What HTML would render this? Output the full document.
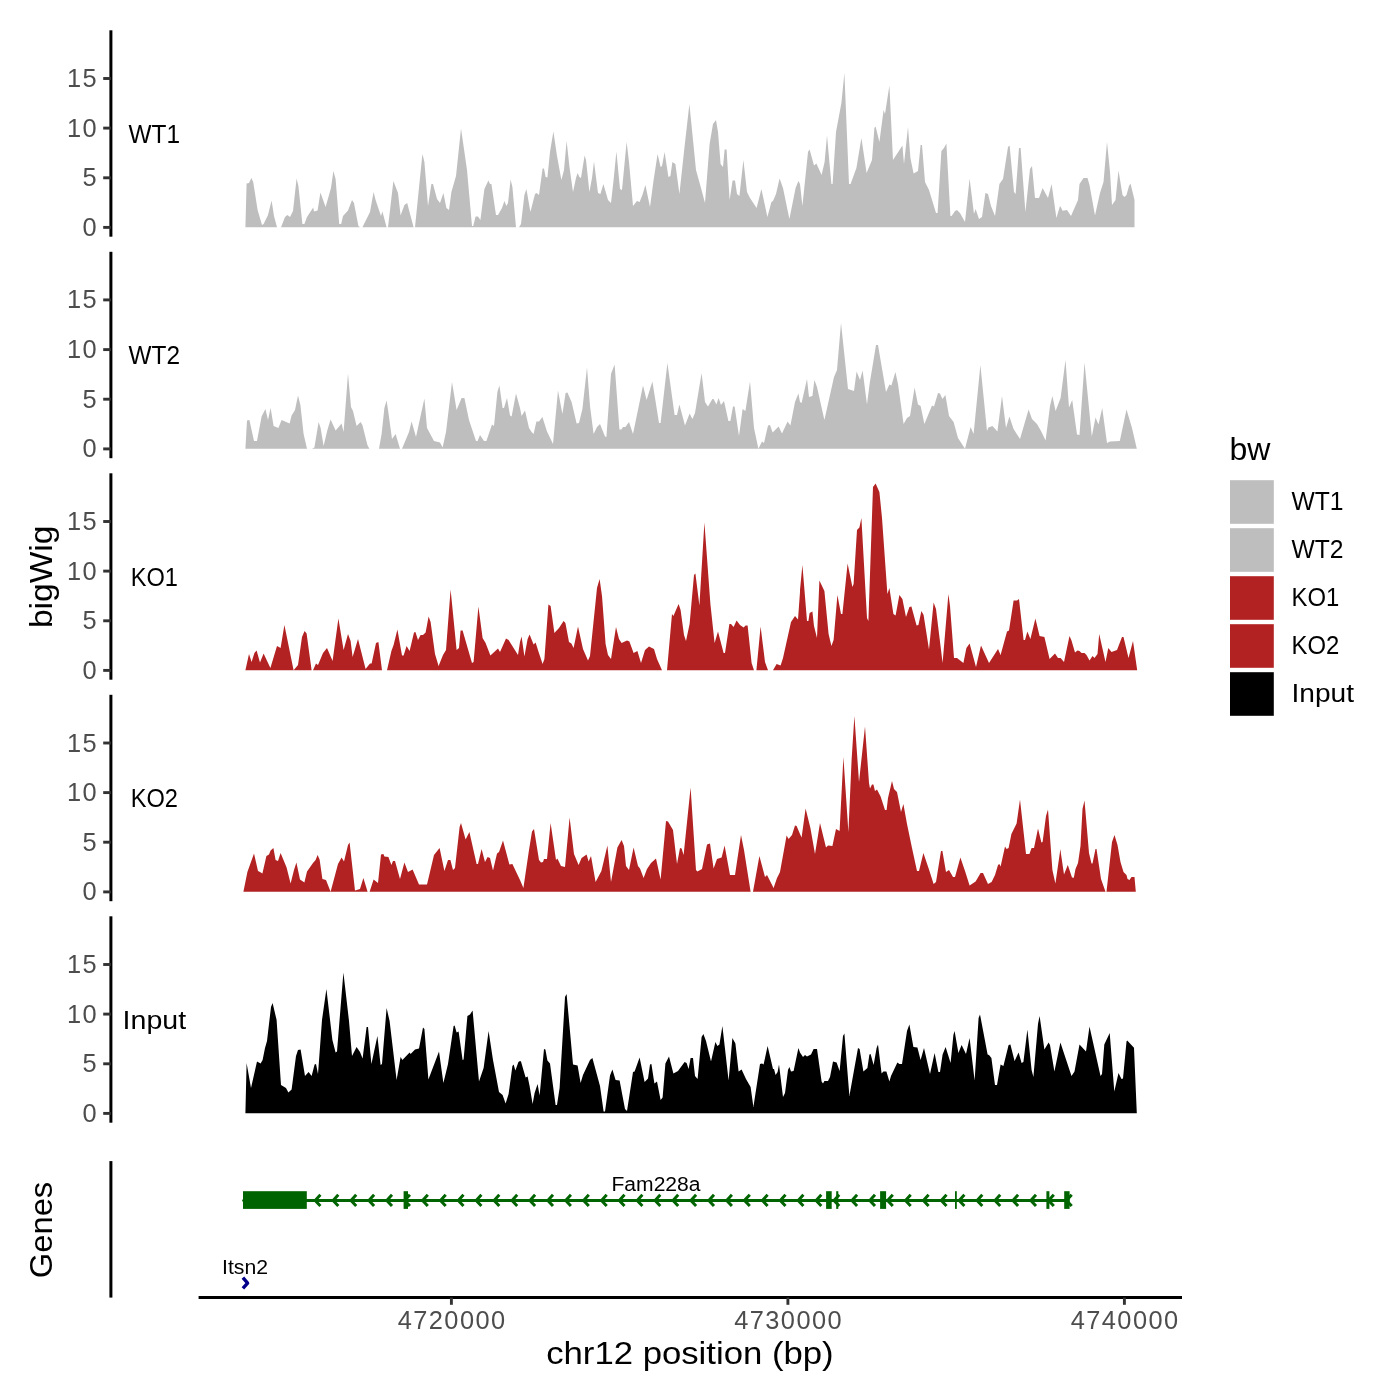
<!DOCTYPE html>
<html><head><meta charset="utf-8"><title>coverage</title>
<style>html,body{margin:0;padding:0;background:#fff}svg{display:block;will-change:transform}text{font-family:"Liberation Sans",sans-serif}</style></head>
<body>
<svg width="1400" height="1400" viewBox="0 0 1400 1400">
<rect width="1400" height="1400" fill="#fff"/>
<path d="M245.4,227.2L245.4,227.2L246.6,183.6L249.0,183.0L251.4,178.0L253.2,182.0L257.6,210.0L262.0,225.0L263.6,224.0L268.0,215.0L271.6,200.6L274.0,216.0L277.0,227.2L277.0,227.2ZM281.0,227.2L281.0,227.2L285.0,217.0L287.4,215.0L290.0,217.0L293.0,211.0L296.6,178.4L298.4,186.0L302.4,224.0L304.4,224.0L307.0,217.0L313.2,207.6L314.0,211.6L317.6,210.4L320.4,192.4L325.6,207.0L331.0,188.0L333.4,171.0L335.6,179.0L339.2,224.0L341.2,224.0L343.0,216.0L348.0,210.4L352.0,200.0L354.0,203.0L358.4,226.0L360.0,227.2L360.0,227.2ZM362.4,227.2L362.4,227.2L370.0,212.0L373.6,192.0L375.6,200.0L381.0,216.0L382.4,211.6L386.6,227.2L388.0,227.2L393.4,181.0L398.0,193.0L400.6,215.6L404.4,205.0L407.2,203.0L409.0,210.0L413.6,227.2L415.0,227.2L422.4,154.0L424.4,162.0L428.0,206.0L431.4,184.0L433.0,184.0L437.0,199.0L440.0,203.0L443.4,193.0L446.4,208.0L449.0,210.0L451.4,192.0L456.0,176.0L461.0,128.4L467.0,170.0L472.0,226.0L473.2,226.0L475.6,216.4L478.0,216.4L480.4,220.0L484.4,189.0L488.4,180.6L490.0,184.0L491.4,184.0L496.0,215.0L498.0,215.0L502.0,208.0L504.4,201.0L506.4,206.0L508.0,203.0L510.6,179.6L512.4,187.0L516.0,227.2L519.0,227.2L521.0,224.0L524.4,195.0L526.4,189.0L530.4,212.0L535.0,194.0L536.6,193.0L539.0,195.0L542.6,168.6L544.0,168.6L545.6,177.0L547.4,177.6L550.0,152.0L553.4,131.6L557.0,156.0L561.4,180.0L564.0,170.0L566.6,141.0L569.6,168.0L573.0,192.0L576.0,178.0L577.6,173.0L579.4,177.0L581.0,178.0L584.6,155.6L586.0,160.0L589.4,192.0L592.0,178.0L594.0,161.4L598.0,193.0L600.4,194.0L603.4,184.0L608.0,200.0L611.0,203.0L613.6,180.0L616.4,151.6L620.0,189.0L622.0,190.0L626.6,142.0L629.0,162.0L633.0,206.0L637.0,201.0L639.6,202.0L642.4,195.0L645.4,185.0L650.0,207.0L653.6,180.0L657.6,154.0L660.6,167.0L662.0,166.0L664.6,152.0L668.4,177.0L670.4,176.0L672.4,162.0L675.4,164.0L679.4,194.0L684.4,148.0L689.4,104.0L696.0,170.0L701.0,188.0L705.0,203.0L709.6,144.0L713.0,124.0L716.0,120.0L718.0,132.0L720.6,164.0L723.0,167.0L724.6,149.6L726.6,149.6L729.6,200.0L732.6,180.4L735.0,180.4L737.0,194.0L739.4,196.0L743.4,160.0L747.0,192.0L750.0,198.0L756.6,208.0L761.4,189.0L767.4,217.0L771.4,202.0L773.0,201.0L776.0,194.0L779.6,178.6L783.0,188.0L789.4,219.0L795.6,188.0L798.4,181.0L800.0,184.0L802.4,206.0L808.0,152.0L809.6,149.6L814.0,165.6L816.4,163.6L821.6,175.0L824.6,162.0L827.0,135.6L831.4,184.0L832.6,184.0L836.0,132.0L841.4,103.0L844.4,73.0L849.0,184.0L850.6,184.0L856.4,168.0L861.4,138.0L866.6,173.0L872.0,160.0L874.4,128.0L875.6,126.4L879.4,142.0L883.6,110.0L885.0,114.0L889.4,85.6L893.0,160.0L902.4,145.6L904.0,164.0L908.0,127.0L910.4,158.0L913.6,173.6L918.0,171.0L920.6,145.0L922.0,145.0L925.0,182.0L929.0,190.0L936.0,213.0L937.6,213.0L941.4,151.0L944.0,148.0L946.4,143.4L950.4,216.0L951.6,216.0L955.0,211.0L957.0,210.0L960.0,213.0L965.0,222.0L969.6,178.4L974.0,214.0L975.6,209.0L979.0,219.0L982.0,217.0L985.4,193.0L988.0,194.0L991.0,206.0L995.0,216.0L999.4,184.0L1003.0,179.0L1008.0,147.0L1009.6,145.4L1014.0,192.0L1015.6,194.0L1019.0,148.0L1020.6,148.0L1025.4,212.0L1030.0,169.0L1032.0,166.0L1035.0,198.0L1039.0,198.0L1042.6,188.0L1048.0,198.0L1051.6,184.0L1056.4,218.0L1060.0,206.0L1061.0,207.5L1062.5,210.8L1067.0,210.0L1071.0,216.0L1078.0,200.0L1079.5,184.0L1083.5,178.0L1087.5,178.0L1089.5,185.0L1095.0,215.5L1100.0,193.0L1103.5,182.0L1107.0,142.0L1110.0,172.0L1112.0,205.0L1115.5,200.0L1118.5,170.5L1122.5,195.0L1124.5,197.0L1126.5,195.0L1129.0,186.0L1130.5,183.5L1134.5,200.0L1134.5,227.2L1134.5,227.2Z" fill="#BEBEBE"/>
<line x1="110.9" y1="30.3" x2="110.9" y2="236.7" stroke="#000" stroke-width="3"/>
<line x1="103.2" y1="227.4" x2="110.9" y2="227.4" stroke="#333" stroke-width="2.9"/>
<text x="82.46" y="235.9" font-size="25.4" fill="#4D4D4D" letter-spacing="1.43">0</text>
<line x1="103.2" y1="177.8" x2="110.9" y2="177.8" stroke="#333" stroke-width="2.9"/>
<text x="82.46" y="186.2" font-size="25.4" fill="#4D4D4D" letter-spacing="1.43">5</text>
<line x1="103.2" y1="128.1" x2="110.9" y2="128.1" stroke="#333" stroke-width="2.9"/>
<text x="66.91" y="136.6" font-size="25.4" fill="#4D4D4D" letter-spacing="1.43">10</text>
<line x1="103.2" y1="78.5" x2="110.9" y2="78.5" stroke="#333" stroke-width="2.9"/>
<text x="66.91" y="87.0" font-size="25.4" fill="#4D4D4D" letter-spacing="1.43">15</text>
<text x="128.6" y="142.8" font-size="25.6" fill="#000" text-anchor="start" textLength="51.5" lengthAdjust="spacingAndGlyphs">WT1</text>
<path d="M245.4,448.7L245.4,448.7L247.0,420.4L249.4,420.0L254.0,441.0L257.0,441.0L261.6,416.4L265.4,409.0L268.0,420.0L270.6,408.0L273.6,426.0L278.4,428.0L281.6,420.0L289.6,423.6L291.6,415.6L295.0,410.0L298.0,395.6L300.4,405.0L303.6,434.0L307.0,448.7L307.0,448.7ZM312.0,448.7L312.0,448.7L314.4,447.6L318.6,422.0L320.6,428.0L323.6,446.0L327.4,430.0L330.6,419.6L335.6,430.6L341.6,423.6L343.6,432.0L348.0,373.4L351.0,407.0L353.0,411.0L356.6,426.0L360.6,422.0L362.4,425.0L367.4,445.0L369.4,448.7L369.4,448.7ZM379.0,448.7L379.0,448.7L381.6,434.0L384.4,408.0L386.6,400.4L388.6,414.0L392.0,439.0L395.6,434.0L400.0,448.7L402.0,448.7L409.0,432.0L411.6,421.4L416.0,437.0L424.4,398.4L427.0,428.0L434.0,441.0L440.0,442.6L442.6,447.6L446.0,432.0L452.0,382.0L456.6,410.0L461.6,398.0L464.4,398.0L469.0,420.0L473.0,432.0L476.0,441.0L477.6,441.0L480.0,435.0L484.0,441.0L486.4,441.0L492.0,424.4L494.0,426.0L497.4,392.0L499.4,385.4L502.6,408.0L504.0,408.0L507.0,398.0L510.0,415.6L511.6,416.4L516.0,393.6L520.0,408.0L521.6,416.0L525.0,410.4L529.0,428.0L531.6,432.0L533.6,434.0L536.4,421.4L539.0,421.4L542.4,417.0L547.0,431.6L553.0,444.0L558.0,390.6L562.4,414.0L565.6,393.0L567.4,392.4L571.6,402.0L576.6,423.6L579.0,423.0L582.4,409.0L587.0,367.4L590.0,406.0L593.6,434.0L597.0,427.0L600.0,424.0L605.0,436.4L606.4,437.0L611.0,374.0L614.6,364.4L619.4,429.6L621.4,429.6L623.0,427.0L625.4,427.0L629.0,422.0L633.0,434.0L643.0,385.6L646.6,400.0L652.4,381.6L659.0,423.0L660.6,423.0L667.4,363.0L674.6,415.0L677.0,415.0L679.4,404.4L685.0,425.6L689.6,413.4L692.4,419.0L695.0,413.0L701.6,373.0L705.0,402.0L708.0,406.4L712.4,399.0L713.6,399.0L716.4,404.4L718.6,398.0L721.0,405.0L724.0,401.0L728.4,421.0L730.4,421.0L733.0,406.4L734.6,406.4L739.0,436.0L742.6,409.0L745.4,411.0L750.0,381.6L754.0,428.0L758.4,448.7L762.0,441.4L764.0,443.0L768.0,425.6L770.0,425.0L772.6,432.4L778.6,426.4L782.0,433.6L787.6,421.6L790.4,425.6L795.0,402.0L798.4,393.6L800.0,402.0L801.6,403.0L807.0,379.0L809.0,397.0L812.4,396.0L814.4,380.0L817.0,387.0L824.4,420.0L834.0,377.0L837.0,370.0L841.0,323.0L848.0,389.0L854.0,391.0L856.6,371.6L860.0,380.0L862.6,370.6L867.0,404.4L869.6,384.0L876.0,345.0L878.0,345.0L886.0,392.0L889.4,384.4L891.4,385.6L895.4,372.0L898.0,384.0L903.6,424.0L907.0,418.0L910.0,416.0L914.6,387.6L918.0,404.4L920.6,406.0L924.4,424.0L932.0,405.6L934.0,406.4L938.0,393.0L940.0,393.6L942.4,399.0L945.4,395.0L949.0,416.0L953.6,422.0L958.0,438.0L965.0,448.7L970.6,427.0L973.6,434.0L980.4,365.0L987.0,431.0L988.4,427.6L992.4,426.0L997.4,431.6L1002.0,396.0L1006.0,428.0L1009.4,416.6L1013.6,429.0L1020.0,439.0L1028.6,409.6L1032.0,419.0L1037.0,424.0L1041.0,431.0L1045.6,440.6L1050.0,406.0L1052.4,396.0L1055.6,411.0L1060.6,398.0L1065.5,360.0L1069.0,407.5L1072.2,400.0L1077.0,434.5L1079.5,435.0L1084.5,362.5L1091.8,436.5L1095.5,417.5L1098.5,424.5L1102.2,408.0L1107.0,443.0L1110.0,441.5L1119.8,441.0L1126.5,409.5L1132.0,428.0L1136.8,448.7L1136.8,448.7Z" fill="#BEBEBE"/>
<line x1="110.9" y1="251.8" x2="110.9" y2="458.2" stroke="#000" stroke-width="3"/>
<line x1="103.2" y1="448.9" x2="110.9" y2="448.9" stroke="#333" stroke-width="2.9"/>
<text x="82.46" y="457.4" font-size="25.4" fill="#4D4D4D" letter-spacing="1.43">0</text>
<line x1="103.2" y1="399.2" x2="110.9" y2="399.2" stroke="#333" stroke-width="2.9"/>
<text x="82.46" y="407.8" font-size="25.4" fill="#4D4D4D" letter-spacing="1.43">5</text>
<line x1="103.2" y1="349.6" x2="110.9" y2="349.6" stroke="#333" stroke-width="2.9"/>
<text x="66.91" y="358.1" font-size="25.4" fill="#4D4D4D" letter-spacing="1.43">10</text>
<line x1="103.2" y1="299.9" x2="110.9" y2="299.9" stroke="#333" stroke-width="2.9"/>
<text x="66.91" y="308.4" font-size="25.4" fill="#4D4D4D" letter-spacing="1.43">15</text>
<text x="128.6" y="364.3" font-size="25.6" fill="#000" text-anchor="start" textLength="51.5" lengthAdjust="spacingAndGlyphs">WT2</text>
<path d="M245.4,670.2L245.4,670.2L249.0,654.0L251.6,662.0L254.4,653.0L256.6,650.4L260.0,662.6L263.6,653.6L270.4,668.0L277.0,646.0L280.6,648.0L284.4,625.0L293.6,670.2L298.0,665.0L302.0,637.0L304.6,631.0L306.6,633.6L311.6,670.2L313.0,670.2L316.0,663.6L318.0,665.0L323.0,653.0L327.0,648.0L332.6,661.0L338.4,618.6L343.6,650.0L348.0,634.0L350.6,641.0L352.6,657.0L358.0,639.0L365.6,669.0L370.0,663.4L371.6,663.4L376.0,643.0L378.4,642.0L382.0,670.2L382.0,670.2ZM387.0,670.2L387.0,670.2L391.4,651.0L393.6,645.0L397.4,629.6L402.0,655.6L403.6,655.6L406.6,646.0L409.6,651.0L414.0,632.4L415.4,632.0L418.0,640.0L420.6,635.0L423.0,635.0L425.6,632.4L428.6,616.6L430.6,622.0L435.0,654.0L438.6,666.0L443.0,655.0L446.0,650.0L450.6,589.4L456.6,650.0L459.0,648.0L460.6,630.4L462.6,630.4L472.0,663.0L473.6,662.0L478.4,606.6L482.6,638.0L485.6,643.0L490.4,655.6L498.0,648.4L500.0,652.0L506.0,638.4L508.6,640.0L518.0,655.0L520.0,642.0L521.6,636.4L524.4,656.4L527.6,639.0L529.6,634.4L533.6,644.6L535.6,642.4L538.6,652.0L542.6,664.0L544.4,659.0L548.4,604.6L550.6,606.0L554.4,633.0L559.0,628.0L563.6,621.0L565.4,623.0L569.0,642.0L571.4,643.6L573.6,648.0L578.0,626.4L583.0,649.0L588.0,660.4L590.0,656.0L597.0,588.0L599.6,579.0L602.0,596.0L605.6,644.0L608.0,655.0L611.0,659.0L616.0,627.0L619.0,639.0L621.6,643.0L627.0,640.6L629.4,641.4L633.6,653.0L637.4,651.0L641.0,663.0L645.0,650.0L649.0,646.4L654.0,649.0L657.0,659.0L662.0,670.2L662.0,670.2ZM667.0,670.2L667.0,670.2L672.0,614.0L673.4,616.0L678.6,604.0L680.6,610.0L684.0,635.0L686.0,641.0L689.6,624.0L694.0,575.0L695.4,573.6L699.4,605.6L704.4,522.4L710.4,604.0L714.6,643.0L718.0,631.6L723.6,653.0L725.0,653.0L729.4,624.0L731.0,624.0L733.6,627.0L736.6,620.6L740.0,625.0L743.6,627.6L745.6,625.6L747.6,625.6L751.6,663.0L754.0,670.2L754.0,670.2ZM756.4,670.2L756.4,670.2L760.6,626.4L765.0,662.0L768.0,670.2L768.0,670.2ZM773.0,670.2L773.0,670.2L776.6,664.0L780.6,665.6L783.0,658.0L791.0,622.0L795.0,616.0L798.0,619.6L800.0,592.0L800.0,590.0L802.4,565.0L807.0,621.0L808.4,621.0L809.6,613.0L812.4,611.6L814.0,626.0L817.0,638.0L819.4,580.4L824.4,591.0L828.6,634.0L831.4,646.0L833.6,640.0L837.4,595.0L841.0,614.0L842.4,614.0L847.6,563.6L852.4,587.0L853.6,584.0L857.0,530.0L859.4,527.6L861.4,518.0L867.0,618.0L868.4,621.0L873.0,487.0L875.6,483.6L879.4,492.0L882.0,518.0L887.4,594.0L889.4,588.0L893.4,614.0L895.6,615.6L899.4,595.0L902.4,599.0L906.0,617.0L909.4,607.0L911.4,606.4L916.6,625.6L918.4,625.0L921.4,611.0L923.6,615.0L929.0,649.6L933.6,602.4L936.0,609.0L942.6,663.0L948.4,594.0L950.0,606.0L954.0,658.0L957.0,658.0L963.4,663.0L966.4,648.0L969.6,643.6L976.0,667.0L981.0,645.6L989.0,663.0L998.0,649.0L1000.6,655.0L1007.0,631.6L1009.0,630.4L1013.6,600.4L1017.0,600.4L1019.0,599.0L1023.6,640.0L1025.0,640.0L1027.4,631.6L1030.4,639.0L1035.4,618.6L1039.6,636.0L1044.4,637.0L1049.6,659.0L1055.0,653.6L1058.0,658.0L1060.6,658.0L1064.0,662.0L1069.5,636.0L1071.5,640.5L1075.0,652.5L1077.5,650.5L1079.5,651.0L1081.5,653.0L1084.5,653.0L1086.5,655.0L1089.5,660.5L1092.5,656.0L1094.5,658.0L1097.5,654.0L1099.2,634.0L1105.5,662.0L1108.3,648.0L1111.5,652.0L1117.0,650.0L1122.0,637.0L1123.5,637.0L1128.5,658.0L1133.0,641.0L1137.2,670.2L1137.2,670.2Z" fill="#B22222"/>
<line x1="110.9" y1="473.3" x2="110.9" y2="679.7" stroke="#000" stroke-width="3"/>
<line x1="103.2" y1="670.4" x2="110.9" y2="670.4" stroke="#333" stroke-width="2.9"/>
<text x="82.46" y="678.9" font-size="25.4" fill="#4D4D4D" letter-spacing="1.43">0</text>
<line x1="103.2" y1="620.8" x2="110.9" y2="620.8" stroke="#333" stroke-width="2.9"/>
<text x="82.46" y="629.2" font-size="25.4" fill="#4D4D4D" letter-spacing="1.43">5</text>
<line x1="103.2" y1="571.1" x2="110.9" y2="571.1" stroke="#333" stroke-width="2.9"/>
<text x="66.91" y="579.6" font-size="25.4" fill="#4D4D4D" letter-spacing="1.43">10</text>
<line x1="103.2" y1="521.5" x2="110.9" y2="521.5" stroke="#333" stroke-width="2.9"/>
<text x="66.91" y="530.0" font-size="25.4" fill="#4D4D4D" letter-spacing="1.43">15</text>
<text x="130.7" y="585.8" font-size="25.6" fill="#000" text-anchor="start" textLength="47.2" lengthAdjust="spacingAndGlyphs">KO1</text>
<path d="M243.4,891.7L243.4,891.7L247.4,872.0L254.0,853.6L258.0,871.0L260.0,872.0L262.4,873.6L266.4,856.0L269.0,854.6L270.6,850.6L273.4,848.0L275.6,860.0L278.0,861.0L280.6,853.0L286.6,867.6L290.6,883.6L294.0,870.0L296.4,862.6L300.0,879.6L304.4,882.4L307.0,871.6L313.0,863.0L315.6,860.0L317.6,855.0L319.6,859.6L322.4,879.0L326.0,880.0L330.6,891.7L338.0,864.0L341.6,857.6L344.0,861.6L348.0,845.0L349.6,842.6L355.0,890.4L360.0,889.0L363.4,878.0L367.6,891.7L369.6,891.7L373.6,879.6L378.0,883.0L381.0,854.6L383.4,854.0L384.4,856.6L388.4,857.0L391.4,865.0L393.0,861.0L395.0,861.0L400.0,879.0L404.4,862.6L408.0,872.0L412.6,869.6L419.0,884.6L427.0,884.6L434.0,855.0L439.6,848.0L444.4,871.0L448.0,860.0L450.4,860.0L453.0,870.0L455.0,868.0L459.6,827.0L461.0,823.0L465.6,839.6L469.4,832.0L476.6,864.0L478.0,864.0L481.6,849.0L485.0,862.0L487.6,857.0L490.0,858.0L493.0,870.4L497.0,853.6L499.0,852.0L503.0,840.4L509.4,864.4L512.4,864.0L520.0,880.0L523.4,888.0L529.0,850.0L532.0,831.6L534.0,829.0L539.0,860.0L541.0,862.4L543.0,862.0L544.0,859.0L547.0,859.0L550.6,823.0L556.0,860.0L557.4,858.4L561.0,866.0L565.0,867.0L569.6,817.6L574.0,854.0L578.6,865.0L581.6,858.0L586.6,854.4L588.6,861.6L591.0,856.0L595.6,882.0L601.4,871.0L607.4,845.6L611.0,882.0L617.4,847.6L621.6,840.0L624.0,846.0L626.0,866.0L629.0,870.0L633.6,847.6L638.0,866.0L640.0,868.4L643.6,878.0L647.0,869.0L651.0,863.0L656.0,858.4L660.6,879.6L666.0,821.0L668.0,821.6L673.0,830.0L677.0,864.0L680.0,848.0L681.6,848.4L683.6,855.0L690.6,787.6L696.0,870.0L697.4,871.6L702.0,869.0L707.0,844.6L710.0,843.6L713.6,868.4L717.0,859.0L721.6,857.6L724.6,845.6L730.0,875.0L735.0,875.0L741.0,835.0L744.0,850.0L750.6,891.7L750.6,891.7ZM753.0,891.7L753.0,891.7L759.4,856.0L765.0,877.0L767.0,875.0L773.6,888.0L777.0,878.0L780.0,872.0L786.6,835.6L788.6,839.0L792.0,835.0L795.0,825.6L796.6,826.0L800.0,834.0L801.6,837.6L805.6,808.4L810.4,828.0L815.0,854.0L820.0,823.0L826.0,847.6L828.0,845.6L832.4,846.0L836.0,829.0L839.6,831.0L843.4,757.0L848.4,832.0L851.6,760.0L854.4,716.0L859.0,782.0L865.0,726.4L869.0,783.0L870.0,788.4L872.0,784.4L873.4,784.4L875.0,791.0L877.0,789.6L880.6,796.4L885.0,810.0L886.6,810.0L888.0,798.0L892.0,781.0L894.0,789.0L897.0,792.0L901.0,812.0L903.4,804.0L907.0,824.0L912.0,848.0L917.0,871.0L919.0,871.0L923.4,853.0L929.0,869.6L933.6,884.0L936.0,882.0L941.0,851.0L942.4,851.0L946.0,872.0L949.0,870.0L953.0,877.0L955.0,877.0L960.4,857.6L965.0,871.0L969.6,885.6L975.6,881.6L980.6,873.0L983.0,873.0L988.0,884.0L991.6,882.0L995.0,875.0L998.0,865.0L999.4,864.0L1000.6,866.4L1005.0,846.4L1006.6,849.0L1008.6,848.0L1011.4,834.0L1016.6,823.6L1020.0,799.4L1026.0,854.0L1029.4,854.0L1031.6,848.0L1034.0,848.0L1038.0,828.4L1041.4,842.4L1042.6,842.0L1046.0,816.0L1048.0,809.4L1052.4,870.0L1055.4,883.6L1060.4,849.0L1061.0,854.0L1064.0,874.5L1067.8,865.0L1072.0,877.5L1073.8,877.8L1075.5,869.0L1078.0,863.0L1080.5,846.0L1082.5,809.0L1084.5,800.5L1089.0,853.0L1091.5,863.5L1092.5,863.5L1095.5,849.0L1096.5,849.0L1101.0,879.0L1105.5,891.7L1106.5,891.7L1112.0,842.0L1114.5,835.0L1117.5,845.0L1120.5,862.0L1123.5,872.0L1126.5,875.0L1127.5,879.0L1129.5,880.0L1131.5,877.0L1134.5,877.0L1135.8,891.7L1135.8,891.7Z" fill="#B22222"/>
<line x1="110.9" y1="694.8" x2="110.9" y2="901.2" stroke="#000" stroke-width="3"/>
<line x1="103.2" y1="891.9" x2="110.9" y2="891.9" stroke="#333" stroke-width="2.9"/>
<text x="82.46" y="900.4" font-size="25.4" fill="#4D4D4D" letter-spacing="1.43">0</text>
<line x1="103.2" y1="842.2" x2="110.9" y2="842.2" stroke="#333" stroke-width="2.9"/>
<text x="82.46" y="850.8" font-size="25.4" fill="#4D4D4D" letter-spacing="1.43">5</text>
<line x1="103.2" y1="792.6" x2="110.9" y2="792.6" stroke="#333" stroke-width="2.9"/>
<text x="66.91" y="801.1" font-size="25.4" fill="#4D4D4D" letter-spacing="1.43">10</text>
<line x1="103.2" y1="743.0" x2="110.9" y2="743.0" stroke="#333" stroke-width="2.9"/>
<text x="66.91" y="751.5" font-size="25.4" fill="#4D4D4D" letter-spacing="1.43">15</text>
<text x="130.7" y="807.3" font-size="25.6" fill="#000" text-anchor="start" textLength="47.2" lengthAdjust="spacingAndGlyphs">KO2</text>
<path d="M245.4,1113.2L245.4,1113.2L246.6,1063.0L251.0,1088.0L257.0,1061.6L260.6,1063.6L262.6,1060.0L265.0,1048.0L267.0,1041.0L271.0,1007.0L272.6,1003.0L276.6,1020.0L281.0,1085.0L286.0,1088.0L288.4,1092.4L291.6,1089.6L296.0,1056.0L298.0,1050.0L300.6,1049.6L305.0,1076.0L308.6,1072.0L311.6,1076.0L314.6,1064.6L316.0,1064.0L318.0,1074.0L322.0,1020.0L326.4,989.0L332.4,1040.0L335.6,1052.4L337.0,1051.6L343.4,972.4L349.0,1021.0L352.0,1056.0L356.6,1047.0L360.0,1052.0L362.6,1058.4L366.6,1027.0L368.0,1027.0L371.4,1064.0L377.4,1036.0L380.6,1065.0L382.0,1064.0L386.6,1008.0L389.6,1021.0L396.6,1080.0L400.6,1057.0L402.4,1060.0L409.6,1052.4L410.6,1054.0L415.0,1049.6L419.0,1048.4L423.0,1027.6L424.4,1029.0L428.4,1079.6L439.0,1051.6L443.4,1083.0L448.0,1064.0L453.6,1026.0L454.6,1025.4L456.6,1032.4L458.6,1031.6L462.6,1060.0L463.6,1059.6L467.4,1016.0L470.0,1014.4L472.6,1010.4L479.0,1081.6L483.6,1068.0L488.6,1031.0L493.0,1060.0L499.0,1092.0L502.6,1095.0L505.6,1103.6L508.6,1094.0L512.4,1066.0L513.6,1064.6L515.4,1070.4L518.4,1062.0L520.0,1061.0L521.0,1061.6L525.6,1077.6L527.6,1076.4L529.6,1086.0L532.6,1104.0L534.6,1093.0L537.6,1084.0L539.6,1095.6L544.0,1049.0L545.4,1049.6L547.4,1060.4L550.0,1063.6L555.6,1105.0L557.0,1105.0L559.6,1088.0L565.0,997.0L566.6,994.0L573.0,1064.6L577.6,1065.6L580.6,1083.0L583.0,1075.0L590.0,1060.0L592.4,1058.0L600.0,1086.0L603.6,1111.6L605.0,1111.6L610.0,1075.6L612.4,1069.6L615.6,1080.0L619.6,1080.4L625.0,1109.0L627.0,1111.0L633.0,1072.0L634.6,1071.6L639.6,1057.6L644.6,1082.0L648.0,1078.4L650.0,1064.6L651.4,1064.0L654.4,1083.6L657.0,1081.6L660.6,1100.0L662.6,1097.6L665.4,1063.6L669.0,1056.4L673.4,1073.6L678.0,1071.0L684.6,1062.0L686.6,1063.0L688.6,1069.0L690.6,1058.0L693.0,1058.0L695.0,1076.0L697.6,1079.0L701.6,1037.0L703.4,1034.0L706.0,1041.0L711.0,1061.6L715.4,1042.0L717.4,1046.0L719.4,1044.4L722.4,1026.0L728.6,1080.4L732.4,1038.0L735.4,1043.6L738.6,1071.6L741.6,1069.6L746.0,1079.0L750.6,1087.0L753.4,1107.0L760.0,1064.0L762.0,1063.6L763.6,1064.4L767.6,1046.0L773.0,1069.0L774.0,1069.0L775.6,1075.0L777.6,1072.0L779.0,1064.6L783.0,1097.0L785.0,1093.0L788.0,1070.0L789.4,1067.0L791.0,1071.6L793.6,1071.0L798.4,1048.0L800.0,1052.4L803.0,1057.0L805.0,1055.0L807.0,1056.4L811.0,1054.4L813.6,1049.0L817.0,1049.0L821.6,1081.6L823.0,1083.6L824.4,1081.0L828.0,1081.0L830.0,1077.0L833.0,1061.6L836.6,1062.4L839.6,1071.0L843.0,1036.0L844.4,1033.6L849.4,1096.0L858.0,1048.0L859.6,1049.0L863.4,1071.6L867.4,1068.0L869.4,1054.4L870.6,1054.0L873.6,1065.0L876.6,1048.0L878.0,1044.6L881.6,1073.6L883.4,1071.6L886.4,1071.6L889.4,1081.6L891.0,1076.0L897.4,1062.4L899.4,1064.0L902.0,1064.0L907.0,1031.0L909.4,1024.6L913.4,1047.0L917.4,1047.4L920.6,1060.0L924.0,1048.0L930.0,1074.0L934.6,1053.0L938.4,1072.0L940.0,1072.0L942.6,1054.4L945.6,1047.0L950.6,1063.0L953.4,1035.0L954.6,1031.0L958.4,1053.0L961.6,1045.0L966.0,1054.0L969.6,1038.0L974.6,1080.4L978.6,1018.0L980.0,1014.4L987.6,1054.4L989.0,1055.0L991.4,1058.0L995.0,1085.0L997.0,1085.0L1000.6,1064.6L1003.4,1066.0L1008.6,1045.0L1010.4,1044.6L1014.6,1061.0L1018.6,1052.4L1021.6,1063.0L1023.4,1062.0L1027.4,1029.6L1031.6,1070.0L1033.4,1077.0L1038.0,1024.0L1039.6,1016.0L1044.4,1049.6L1048.6,1042.4L1050.0,1045.0L1054.4,1071.6L1060.4,1042.4L1071.5,1076.0L1074.5,1071.5L1079.5,1044.5L1086.0,1051.5L1089.5,1026.5L1100.5,1076.0L1102.0,1074.0L1104.3,1044.5L1109.7,1033.0L1114.3,1091.5L1118.5,1073.0L1121.5,1079.0L1123.0,1078.5L1126.5,1041.5L1127.2,1040.5L1134.0,1047.8L1136.8,1113.2L1136.8,1113.2Z" fill="#000000"/>
<line x1="110.9" y1="916.3" x2="110.9" y2="1122.7" stroke="#000" stroke-width="3"/>
<line x1="103.2" y1="1113.4" x2="110.9" y2="1113.4" stroke="#333" stroke-width="2.9"/>
<text x="82.46" y="1121.9" font-size="25.4" fill="#4D4D4D" letter-spacing="1.43">0</text>
<line x1="103.2" y1="1063.8" x2="110.9" y2="1063.8" stroke="#333" stroke-width="2.9"/>
<text x="82.46" y="1072.2" font-size="25.4" fill="#4D4D4D" letter-spacing="1.43">5</text>
<line x1="103.2" y1="1014.1" x2="110.9" y2="1014.1" stroke="#333" stroke-width="2.9"/>
<text x="66.91" y="1022.6" font-size="25.4" fill="#4D4D4D" letter-spacing="1.43">10</text>
<line x1="103.2" y1="964.5" x2="110.9" y2="964.5" stroke="#333" stroke-width="2.9"/>
<text x="66.91" y="973.0" font-size="25.4" fill="#4D4D4D" letter-spacing="1.43">15</text>
<text x="122.6" y="1028.8" font-size="25.6" fill="#000" text-anchor="start" textLength="63.5" lengthAdjust="spacingAndGlyphs">Input</text>
<text transform="translate(52.0,576.8) rotate(-90)" font-size="31.9" fill="#000" text-anchor="middle" textLength="102.5" lengthAdjust="spacingAndGlyphs">bigWig</text>
<text transform="translate(52.3,1230.0) rotate(-90)" font-size="31.9" fill="#000" text-anchor="middle" textLength="96.5" lengthAdjust="spacingAndGlyphs">Genes</text>
<line x1="110.9" y1="1161.1" x2="110.9" y2="1297.6" stroke="#000" stroke-width="3"/>
<line x1="198.6" y1="1297.4" x2="1182" y2="1297.4" stroke="#000" stroke-width="3"/>
<line x1="451.4" y1="1297.6" x2="451.4" y2="1304.8" stroke="#333" stroke-width="2.9"/>
<text x="397.69" y="1328.6" font-size="25.4" fill="#4D4D4D" letter-spacing="1.43">4720000</text>
<line x1="787.9" y1="1297.6" x2="787.9" y2="1304.8" stroke="#333" stroke-width="2.9"/>
<text x="734.19" y="1328.6" font-size="25.4" fill="#4D4D4D" letter-spacing="1.43">4730000</text>
<line x1="1124.4" y1="1297.6" x2="1124.4" y2="1304.8" stroke="#333" stroke-width="2.9"/>
<text x="1070.69" y="1328.6" font-size="25.4" fill="#4D4D4D" letter-spacing="1.43">4740000</text>
<text x="546.2" y="1363.5" font-size="31.9" fill="#000" text-anchor="start" textLength="287.5" lengthAdjust="spacingAndGlyphs">chr12 position (bp)</text>
<line x1="243" y1="1200.4" x2="1069.6" y2="1200.4" stroke="#006400" stroke-width="3"/>
<path d="M248.9,1194.8L243.7,1200.4L248.9,1206.0M266.8,1194.8L261.6,1200.4L266.8,1206.0M284.7,1194.8L279.5,1200.4L284.7,1206.0M302.6,1194.8L297.4,1200.4L302.6,1206.0M320.4,1194.8L315.2,1200.4L320.4,1206.0M338.3,1194.8L333.1,1200.4L338.3,1206.0M356.2,1194.8L351.0,1200.4L356.2,1206.0M374.1,1194.8L368.9,1200.4L374.1,1206.0M392.0,1194.8L386.8,1200.4L392.0,1206.0M409.9,1194.8L404.7,1200.4L409.9,1206.0M427.8,1194.8L422.6,1200.4L427.8,1206.0M445.7,1194.8L440.5,1200.4L445.7,1206.0M463.5,1194.8L458.3,1200.4L463.5,1206.0M481.4,1194.8L476.2,1200.4L481.4,1206.0M499.3,1194.8L494.1,1200.4L499.3,1206.0M517.2,1194.8L512.0,1200.4L517.2,1206.0M535.1,1194.8L529.9,1200.4L535.1,1206.0M553.0,1194.8L547.8,1200.4L553.0,1206.0M570.9,1194.8L565.7,1200.4L570.9,1206.0M588.8,1194.8L583.6,1200.4L588.8,1206.0M606.7,1194.8L601.5,1200.4L606.7,1206.0M624.5,1194.8L619.3,1200.4L624.5,1206.0M642.4,1194.8L637.2,1200.4L642.4,1206.0M660.3,1194.8L655.1,1200.4L660.3,1206.0M678.2,1194.8L673.0,1200.4L678.2,1206.0M696.1,1194.8L690.9,1200.4L696.1,1206.0M714.0,1194.8L708.8,1200.4L714.0,1206.0M731.9,1194.8L726.7,1200.4L731.9,1206.0M749.8,1194.8L744.5,1200.4L749.8,1206.0M767.6,1194.8L762.4,1200.4L767.6,1206.0M785.5,1194.8L780.3,1200.4L785.5,1206.0M803.4,1194.8L798.2,1200.4L803.4,1206.0M821.3,1194.8L816.1,1200.4L821.3,1206.0M839.2,1194.8L834.0,1200.4L839.2,1206.0M857.1,1194.8L851.9,1200.4L857.1,1206.0M875.0,1194.8L869.8,1200.4L875.0,1206.0M892.8,1194.8L887.6,1200.4L892.8,1206.0M910.7,1194.8L905.5,1200.4L910.7,1206.0M928.6,1194.8L923.4,1200.4L928.6,1206.0M946.5,1194.8L941.3,1200.4L946.5,1206.0M964.4,1194.8L959.2,1200.4L964.4,1206.0M982.3,1194.8L977.1,1200.4L982.3,1206.0M1000.2,1194.8L995.0,1200.4L1000.2,1206.0M1018.1,1194.8L1012.9,1200.4L1018.1,1206.0M1036.0,1194.8L1030.8,1200.4L1036.0,1206.0M1053.8,1194.8L1048.6,1200.4L1053.8,1206.0M1071.7,1194.8L1066.5,1200.4L1071.7,1206.0" fill="none" stroke="#006400" stroke-width="3" stroke-linejoin="round"/>
<rect x="243.0" y="1191.2" width="63.8" height="17.7" fill="#006400"/>
<rect x="403.6" y="1191.2" width="4.4" height="17.7" fill="#006400"/>
<rect x="826.1" y="1191.2" width="5.6" height="17.7" fill="#006400"/>
<rect x="836.2" y="1191.2" width="2.1" height="17.7" fill="#006400"/>
<rect x="880.1" y="1191.2" width="6.0" height="17.7" fill="#006400"/>
<rect x="955.0" y="1191.2" width="1.8" height="17.7" fill="#006400"/>
<rect x="1046.4" y="1191.2" width="3.0" height="17.7" fill="#006400"/>
<rect x="1064.2" y="1191.2" width="5.4" height="17.7" fill="#006400"/>
<text x="611.5" y="1191.0" font-size="20.0" fill="#000" text-anchor="start" textLength="89.0" lengthAdjust="spacingAndGlyphs">Fam228a</text>
<text x="222.0" y="1273.8" font-size="20.0" fill="#000" text-anchor="start" textLength="46.0" lengthAdjust="spacingAndGlyphs">Itsn2</text>
<path d="M242.9,1277.7L247.6,1283.1L242.9,1288.4" fill="none" stroke="#00008B" stroke-width="3.4" stroke-linejoin="round"/>
<text x="1229.5" y="460.0" font-size="31.9" fill="#000" text-anchor="start" textLength="41.0" lengthAdjust="spacingAndGlyphs">bw</text>
<rect x="1230" y="480.2" width="43.8" height="43.6" fill="#BEBEBE"/>
<text x="1291.5" y="510.4" font-size="25.6" fill="#000" text-anchor="start" textLength="52.0" lengthAdjust="spacingAndGlyphs">WT1</text>
<rect x="1230" y="528.2" width="43.8" height="43.6" fill="#BEBEBE"/>
<text x="1291.5" y="558.4" font-size="25.6" fill="#000" text-anchor="start" textLength="52.0" lengthAdjust="spacingAndGlyphs">WT2</text>
<rect x="1230" y="576.2" width="43.8" height="43.6" fill="#B22222"/>
<text x="1291.5" y="606.4" font-size="25.6" fill="#000" text-anchor="start" textLength="47.7" lengthAdjust="spacingAndGlyphs">KO1</text>
<rect x="1230" y="624.2" width="43.8" height="43.6" fill="#B22222"/>
<text x="1291.5" y="654.4" font-size="25.6" fill="#000" text-anchor="start" textLength="47.7" lengthAdjust="spacingAndGlyphs">KO2</text>
<rect x="1230" y="672.2" width="43.8" height="43.6" fill="#000"/>
<text x="1291.5" y="702.4" font-size="25.6" fill="#000" text-anchor="start" textLength="62.5" lengthAdjust="spacingAndGlyphs">Input</text>
</svg>
</body></html>
